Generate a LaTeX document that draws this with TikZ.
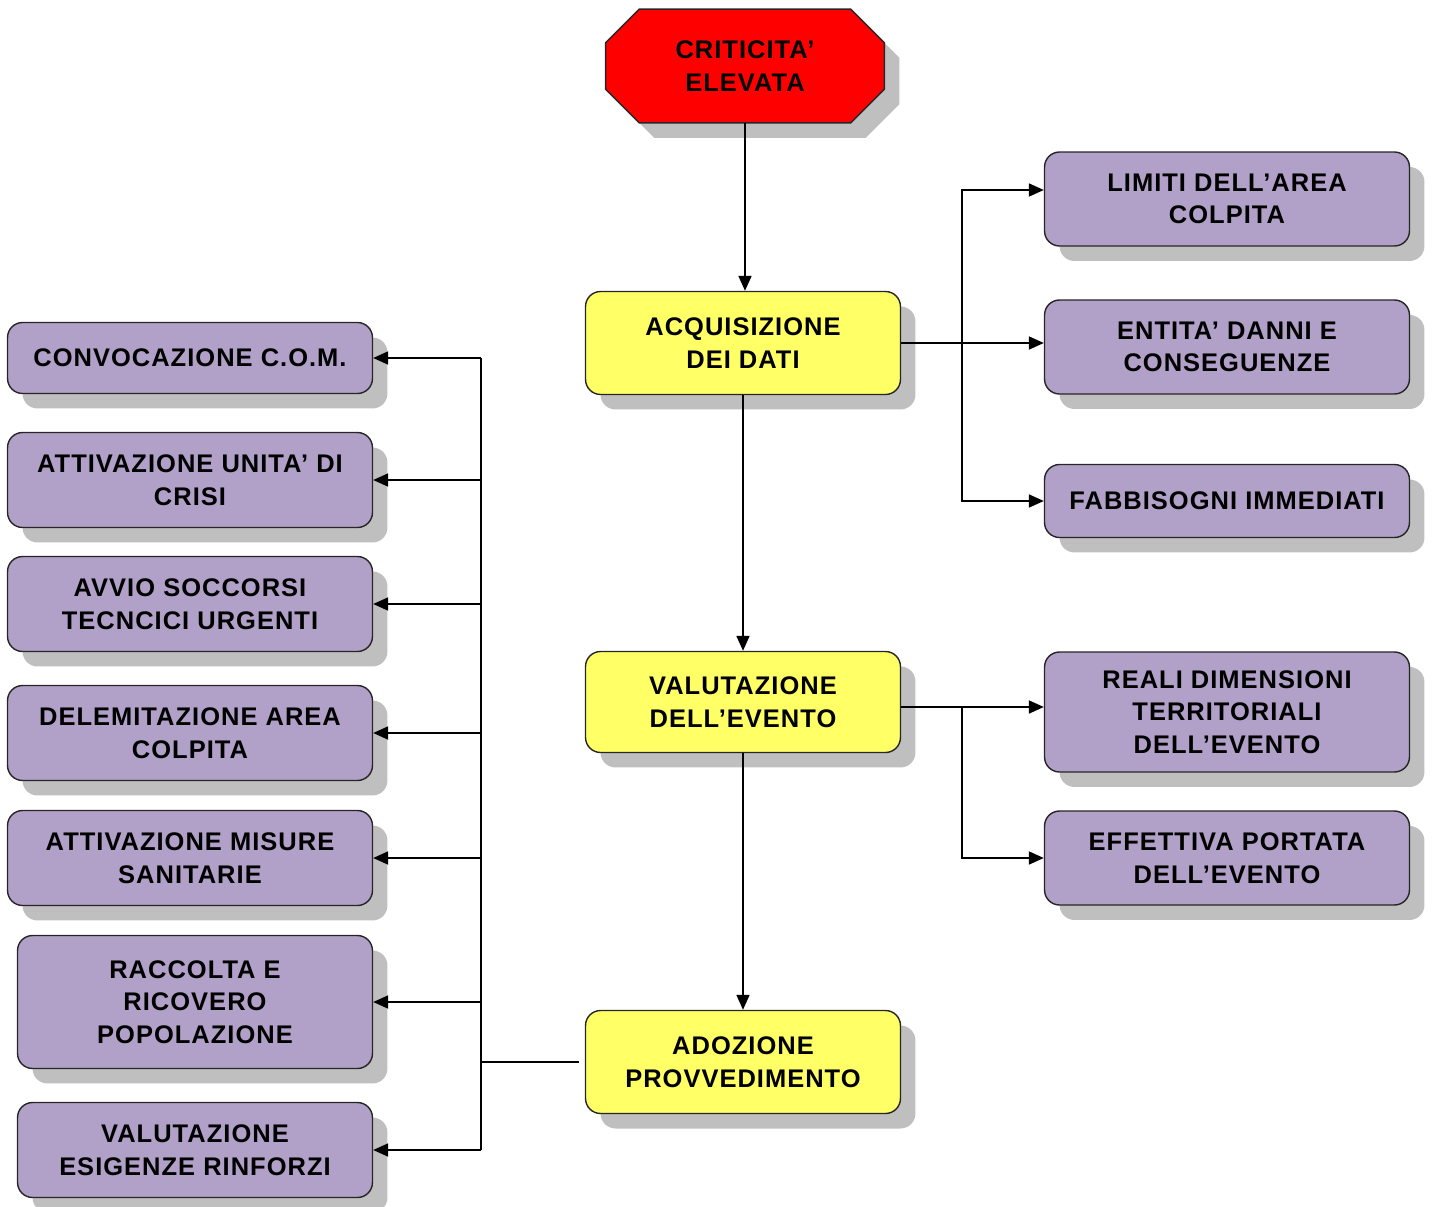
\documentclass[tikz,border=0pt]{standalone}
\usepackage{fontspec}
\setmainfont{Liberation Sans}[LetterSpace=4]
\usetikzlibrary{arrows.meta}
\usetikzlibrary{shadows}
\definecolor{lilla}{HTML}{B1A0C7}
\definecolor{giallo}{HTML}{FFFF66}

\begin{document}
\begin{tikzpicture}[x=0.02cm, y=-0.02cm, >={Triangle[length=0.3cm,width=0.26cm]}, line width=1pt,
    shade/.style={drop shadow={shadow xshift=0.3cm, shadow yshift=-0.3cm, fill=black!25, opacity=1}},
    label font/.style={font=\fontsize{14.5}{18.5}\selectfont\bfseries},
    box/.style={draw=black!85, line width=0.8pt, rounded corners=0.3cm, align=center, inner sep=0pt,
        label font, shade},
    mainbox/.style={box, fill=giallo, minimum width=6.3cm, minimum height=2.06cm},
    taskbox/.style={box, fill=lilla, minimum width=7.3cm, minimum height=1.9cm}]
        \useasboundingbox (0,0) rectangle (1434,1207);

        % Start (octagon)
        \node[minimum width=5.54cm, minimum height=2.24cm, inner sep=0pt] (crit) at (745,66) {};
        \draw[draw=black!85, line width=0.8pt, fill=red, shade]
            ([xshift=0.67cm]crit.north west) -- ([xshift=-0.67cm]crit.north east)
            -- ([yshift=-0.67cm]crit.north east) -- ([yshift=0.67cm]crit.south east)
            -- ([xshift=-0.67cm]crit.south east) -- ([xshift=0.67cm]crit.south west)
            -- ([yshift=0.67cm]crit.south west) -- ([yshift=-0.67cm]crit.north west) -- cycle;
        \node[label font, align=center] (crittext) at (crit) {CRITICITA’\\ELEVATA};

        % Central column
        \node[mainbox] (acq) at (743,343) {ACQUISIZIONE\\DEI DATI};
        \node[mainbox, minimum height=2.02cm] (val) at (743,702) {VALUTAZIONE\\DELL’EVENTO};
        \node[mainbox] (ado) at (743,1062) {ADOZIONE\\PROVVEDIMENTO};

        % Right column
        \node[taskbox, minimum height=1.88cm] (limiti) at (1227,199) {LIMITI DELL’AREA\\COLPITA};
        \node[taskbox, minimum height=1.88cm] (entita) at (1227,347) {ENTITA’ DANNI E\\CONSEGUENZE};
        \node[taskbox, minimum height=1.46cm] (fabb) at (1227,501) {FABBISOGNI IMMEDIATI};
        \node[taskbox, minimum height=2.4cm] (reali) at (1227,712) {REALI DIMENSIONI\\TERRITORIALI\\DELL’EVENTO};
        \node[taskbox, minimum height=1.88cm] (effet) at (1227,858) {EFFETTIVA PORTATA\\DELL’EVENTO};

        % Left column
        \node[taskbox, minimum height=1.42cm] (convoc) at (190,358) {CONVOCAZIONE C.O.M.};
        \node[taskbox] (attiv) at (190,480) {ATTIVAZIONE UNITA’ DI\\CRISI};
        \node[taskbox] (avvio) at (190,604) {AVVIO SOCCORSI\\TECNCICI URGENTI};
        \node[taskbox] (delim) at (190,733) {DELEMITAZIONE AREA\\COLPITA};
        \node[taskbox] (misure) at (190,858) {ATTIVAZIONE MISURE\\SANITARIE};
        \node[taskbox, minimum width=7.1cm, minimum height=2.66cm] (racc) at (195,1002) {RACCOLTA E\\RICOVERO\\POPOLAZIONE};
        \node[taskbox, minimum width=7.1cm] (ries) at (195,1150) {VALUTAZIONE\\ESIGENZE RINFORZI};

        % Main flow
        \draw[->] (crit.south) -- (crit.south |- acq.north);
        \draw[->] (acq) -- (val);
        \draw[->] (val) -- (ado);

        % Right branches
        \coordinate (jr) at (962,0);
        \draw[->] (acq.east) -- (acq.east -| entita.west);
        \draw[->] (acq.east -| jr) |- ([yshift=0.18cm]limiti.west);
        \draw[->] (acq.east -| jr) |- (fabb.west);
        \draw[->] ([yshift=-0.1cm]val.east) -- ([yshift=-0.1cm]val.east -| reali.west);
        \draw[->] ([yshift=-0.1cm]val.east -| jr) |- (effet.west);

        % Left branches
        \coordinate (jl) at (481,0);
        \draw ([xshift=-0.12cm]ado.west) -- (ado.west -| jl);
        \draw (jl |- convoc.east) -- (jl |- ries.east);
        \foreach \n in {convoc, attiv, avvio, delim, misure, racc, ries} {
            \draw[->] (jl |- \n.east) -- (\n.east);
        }

        \end{tikzpicture}
\end{document}
